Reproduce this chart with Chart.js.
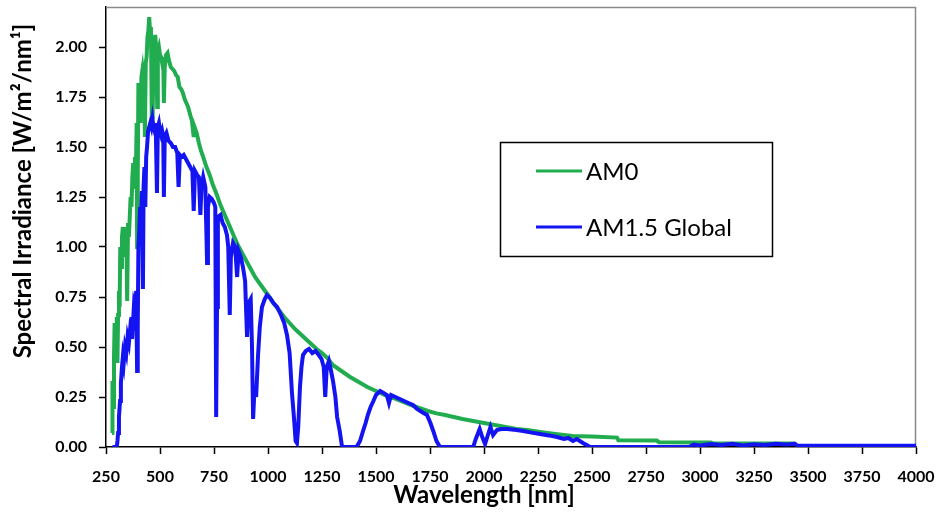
<!DOCTYPE html>
<html><head><meta charset="utf-8">
<script src="https://cdn.jsdelivr.net/npm/chart.js@4.4.0/dist/chart.umd.min.js"></script>
<style>html,body{margin:0;padding:0;background:#fff;}#wrap{width:936px;height:513px;}</style>
</head><body><div id="wrap"><canvas id="c" width="936" height="513"></canvas></div>
<script>
// ---- data ----
const seriesNames = ['AM0', 'AM1.5 Global'];
const xAxisTitle = 'Wavelength [nm]';
const yAxisTitle = 'Spectral Irradiance [W/m\u00B2/nm\u00B9]';
const xTickValues = [250,500,750,1000,1250,1500,1750,2000,2250,2500,2750,3000,3250,3500,3750,4000];
const yTickValues = [0,0.25,0.5,0.75,1,1.25,1.5,1.75,2];

const am0Wavelengths = [278,280,284,287,290,294,297,300,303,306,310,313,316,320,324,328,332,336,340,344,348,352,356,360,364,368,372,376,380,384,388,392,394,397,400,405,410,414,418,422,426,430,434,438,442,446,450,454,458,462,466,470,474,478,482,487,490,495,500,505,510,515,518,522,528,535,542,550,558,566,574,582,590,598,606,614,622,630,640,648,656,660,670,680,690,700,715,730,745,760,780,800,820,840,860,880,900,920,940,960,980,1000,1025,1050,1075,1100,1125,1150,1175,1200,1225,1250,1275,1300,1340,1380,1420,1460,1500,1540,1580,1620,1660,1700,1740,1780,1820,1860,1900,1950,2000,2050,2100,2150,2200,2260,2330,2410,2500,2616,2622,2800,2810,3050,3060,3440];
const am0Values = [0.07,0.33,0.2,0.45,0.62,0.5,0.6,0.65,0.42,0.66,0.78,0.7,1.0,0.9,1.05,1.1,1.0,1.08,0.95,1.1,0.73,1.12,1.05,1.15,1.25,1.2,1.35,1.42,1.3,1.45,1.35,1.62,1.0,1.35,1.82,1.78,1.62,1.85,1.88,1.82,1.9,1.55,1.92,1.95,2.05,2.08,2.15,2.08,2.1,1.65,1.65,2.05,2.02,2.06,2.0,1.7,1.98,2.0,1.96,1.95,1.92,1.95,1.72,1.9,1.96,1.97,1.93,1.9,1.89,1.88,1.86,1.85,1.8,1.79,1.77,1.74,1.72,1.7,1.66,1.63,1.55,1.6,1.57,1.52,1.48,1.45,1.4,1.36,1.31,1.27,1.21,1.16,1.11,1.06,1.01,0.97,0.93,0.89,0.85,0.82,0.79,0.76,0.72,0.685,0.65,0.62,0.59,0.565,0.54,0.515,0.49,0.47,0.445,0.41,0.38,0.35,0.325,0.30,0.28,0.26,0.245,0.228,0.21,0.195,0.18,0.168,0.16,0.15,0.14,0.13,0.12,0.11,0.10,0.09,0.085,0.075,0.065,0.055,0.052,0.047,0.034,0.032,0.024,0.022,0.018,0.018];

const am15Wavelengths = [280,300,303,306,310,315,319,324,328,332,338,344,350,356,361,366,370,375,380,385,390,394,397,400,404,408,412,416,421,424,428,432,436,440,445,450,455,460,465,470,475,480,486,490,495,500,505,510,515,518,522,530,540,550,560,570,580,586,592,600,610,620,630,640,650,656,662,672,680,687,692,700,710,718,722,730,740,750,756,760,764,768,780,790,800,810,816,823,828,838,848,857,864,874,884,894,903,910,920,926,931,938,945,954,962,972,985,995,1010,1025,1042,1060,1075,1088,1100,1111,1120,1128,1134,1140,1148,1155,1162,1175,1190,1205,1220,1235,1248,1258,1265,1272,1282,1292,1301,1312,1320,1332,1343,1410,1426,1440,1452,1462,1475,1488,1500,1519,1535,1550,1560,1570,1590,1610,1630,1650,1671,1690,1705,1720,1736,1752,1765,1780,1796,1950,1962,1980,1992,2005,2018,2030,2042,2060,2080,2107,2150,2181,2220,2259,2300,2338,2370,2390,2412,2430,2458,2475,2491,2950,2970,3000,3050,3100,3150,3200,3250,3300,3350,3400,3440,3450,4000];
const am15Values = [0,0,0.03,0.07,0.15,0.23,0.32,0.4,0.45,0.42,0.5,0.47,0.55,0.52,0.58,0.55,0.65,0.62,0.72,0.7,0.78,0.38,0.6,1.0,1.08,1.2,1.15,1.28,0.79,1.3,1.4,1.2,1.45,1.5,1.58,1.6,1.62,1.6,1.64,1.6,1.58,1.62,1.27,1.6,1.62,1.58,1.56,1.58,1.55,1.25,1.55,1.57,1.53,1.52,1.5,1.5,1.47,1.3,1.46,1.45,1.46,1.44,1.42,1.4,1.38,1.18,1.38,1.36,1.35,1.16,1.3,1.35,1.3,0.92,1.2,1.25,1.24,1.22,1.2,0.15,0.7,1.15,1.16,1.12,1.1,1.06,1.0,0.66,0.95,1.02,1.0,0.85,0.98,0.95,0.9,0.83,0.55,0.72,0.74,0.5,0.14,0.3,0.25,0.46,0.6,0.7,0.74,0.76,0.745,0.72,0.7,0.66,0.62,0.56,0.47,0.27,0.15,0.03,0.02,0.1,0.3,0.4,0.46,0.48,0.49,0.47,0.48,0.46,0.44,0.4,0.25,0.4,0.43,0.38,0.33,0.25,0.15,0.08,0,0,0.03,0.08,0.12,0.16,0.2,0.23,0.26,0.28,0.27,0.26,0.22,0.26,0.25,0.24,0.23,0.22,0.21,0.19,0.18,0.17,0.16,0.12,0.08,0.03,0,0,0.04,0.09,0.05,0.015,0.06,0.1,0.06,0.085,0.09,0.09,0.085,0.08,0.072,0.065,0.058,0.05,0.04,0.045,0.03,0.04,0.02,0.01,0,0,0.012,0.008,0.015,0.01,0.016,0.008,0.014,0.01,0.016,0.012,0.016,0.006,0.006];

const seriesColors = ['#21AD4F', '#1414F2'];

function toPoints(xs, ys) { return xs.map((x, i) => ({x: x, y: ys[i]})); }

const extrasPlugin = {
  id: 'extras',
  beforeDatasetsDraw(chart) {
    const {ctx, chartArea: a} = chart;
    ctx.save();
    ctx.strokeStyle = '#8a8a8a';
    ctx.lineWidth = 1.5;
    ctx.beginPath();
    ctx.moveTo(a.left, a.top + 0.5);
    ctx.lineTo(a.right - 0.5, a.top + 0.5);
    ctx.lineTo(a.right - 0.5, a.bottom);
    ctx.stroke();
    ctx.restore();
  },
  afterDraw(chart) {
    const ctx = chart.ctx;
    ctx.save();
    ctx.fillStyle = '#000';
    ctx.font = 'bold 24px Lato';
    ctx.textAlign = 'center';
    ctx.textBaseline = 'middle';
    ctx.fillText(xAxisTitle, 484, 495);
    ctx.save();
    ctx.translate(23, 191);
    ctx.rotate(-Math.PI / 2);
    ctx.fillText(yAxisTitle, 0, 0);
    ctx.restore();
    // legend box
    ctx.strokeStyle = '#000';
    ctx.lineWidth = 1.5;
    ctx.strokeRect(500.5, 142.5, 272, 114);
    const rows = [171, 227];
    ctx.font = '24px Lato';
    ctx.textAlign = 'left';
    chart.data.datasets.forEach((ds, i) => {
      ctx.strokeStyle = ds.borderColor;
      ctx.lineWidth = 3;
      ctx.beginPath();
      ctx.moveTo(536, rows[i]);
      ctx.lineTo(582, rows[i]);
      ctx.stroke();
      ctx.fillStyle = '#000';
      ctx.fillText(ds.label, 586, rows[i] + 1);
    });
    ctx.restore();
  }
};

const tickFont = {family: 'Lato', size: 16, weight: 'bold'};

new Chart(document.getElementById('c'), {
  type: 'line',
  data: {
    datasets: [
      {label: seriesNames[0], data: toPoints(am0Wavelengths, am0Values), borderColor: seriesColors[0], backgroundColor: seriesColors[0], borderWidth: 4, pointRadius: 0, tension: 0, fill: false, order: 1},
      {label: seriesNames[1], data: toPoints(am15Wavelengths, am15Values), borderColor: seriesColors[1], backgroundColor: seriesColors[1], borderWidth: 4, pointRadius: 0, tension: 0, fill: false, order: 0}
    ]
  },
  options: {
    responsive: false,
    animation: false,
    devicePixelRatio: 1,
    layout: {padding: {top: 7, right: 20, left: 0, bottom: 0}},
    plugins: {legend: {display: false}, tooltip: {enabled: false}},
    scales: {
      x: {
        type: 'linear', min: xTickValues[0], max: xTickValues[xTickValues.length - 1],
        afterBuildTicks: s => { s.ticks = xTickValues.map(v => ({value: v})); },
        ticks: {font: tickFont, color: '#000', padding: 13, maxRotation: 0, autoSkip: false, callback: v => String(v)},
        grid: {drawOnChartArea: false, drawTicks: true, tickLength: 7, color: '#000', tickWidth: 1.5},
        border: {display: true, color: '#000', width: 1.5},
        afterFit: s => { s.height = 66; s.paddingLeft = 0; s.paddingRight = 0; }
      },
      y: {
        type: 'linear', min: 0, max: 2.2,
        afterBuildTicks: s => { s.ticks = yTickValues.map(v => ({value: v})); },
        ticks: {font: tickFont, color: '#000', padding: 12, callback: v => Number(v).toFixed(2)},
        grid: {drawOnChartArea: false, drawTicks: true, tickLength: 7, color: '#000', tickWidth: 1.5},
        border: {display: true, color: '#000', width: 1.5},
        afterFit: s => { s.width = 106; s.paddingTop = 0; s.paddingBottom = 0; }
      }
    }
  },
  plugins: [extrasPlugin]
});
</script>
</body></html>
